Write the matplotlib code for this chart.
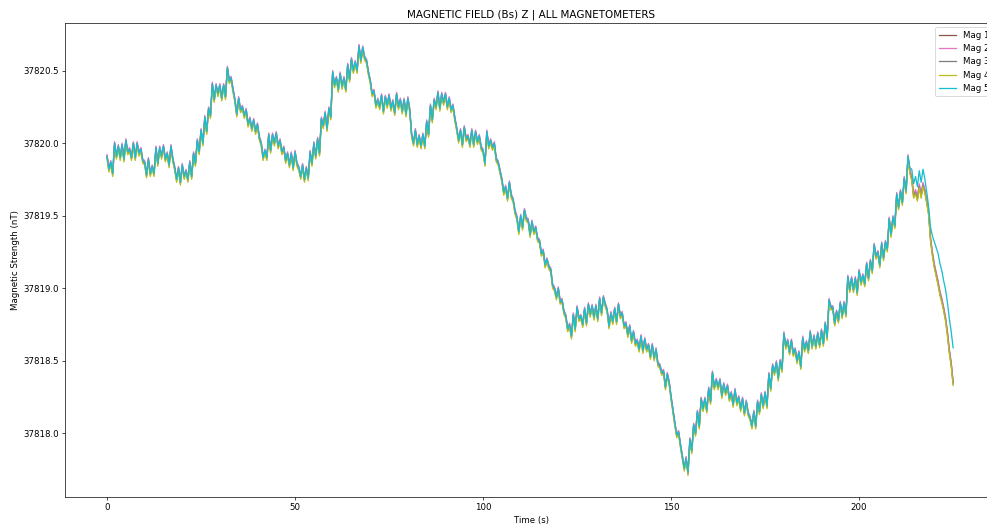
import numpy as np
import matplotlib
matplotlib.use("Agg")
import matplotlib.pyplot as plt

# ── data (0.5 s steps, hundredths of nT relative to 37820 nT) ──
BASE_NT = 37820.0
DT = 0.5

mag5_cnt = [
    -9, -18, -13, -21, 0, -9, -2, -10, -1, -11,
    2, -6, -4, -10, 0, -10, 0, -7, -4, -12,
    -13, -22, -11, -21, -16, -21, -3, -14, -3, -9,
    -2, -11, -7, -15, -2, -11, -17, -25, -17, -27,
    -15, -23, -19, -25, -13, -23, -7, -14, 2, -6,
    9, 0, 18, 8, 24, 19, 41, 30, 40, 34,
    40, 31, 40, 32, 52, 43, 45, 37, 30, 20,
    31, 23, 25, 19, 23, 13, 17, 10, 16, 8,
    13, 4, 0, -10, -5, -10, 6, -5, 6, 0,
    7, -2, 2, -6, -3, -12, -7, -15, -7, -17,
    -6, -14, -17, -23, -15, -25, -17, -24, -6, -14,
    0, -9, 3, -7, 17, 12, 21, 10, 24, 18,
    49, 40, 45, 37, 48, 39, 45, 37, 54, 44,
    58, 50, 56, 50, 67, 57, 66, 59, 57, 49,
    43, 34, 36, 26, 30, 25, 33, 22, 32, 26,
    33, 24, 29, 21, 34, 25, 30, 22, 30, 20,
    31, 23, 6, 0, 9, -1, 5, -2, 6, -2,
    15, 6, 26, 16, 30, 25, 35, 24, 34, 28,
    34, 25, 31, 23, 26, 17, 10, 2, 9, -1,
    11, 3, 5, -1, 9, -1, 8, 1, 5, -3,
    -5, -14, 8, -2, 2, -3, 0, -11, -13, -19,
    -25, -34, -30, -38, -27, -36, -39, -47, -51, -61,
    -50, -58, -46, -52, -53, -63, -54, -61, -58, -66,
    -67, -76, -74, -84, -80, -85, -87, -98, -100, -106,
    -100, -109, -108, -116, -119, -128, -125, -133, -118, -128,
    -113, -121, -119, -125, -114, -124, -111, -118, -112, -120,
    -112, -121, -107, -117, -106, -111, -115, -126, -117, -123,
    -114, -123, -111, -119, -117, -126, -124, -132, -126, -136,
    -130, -138, -136, -142, -133, -143, -135, -142, -139, -147,
    -139, -148, -142, -152, -153, -158, -157, -168, -159, -165,
    -175, -184, -193, -201, -199, -208, -216, -224, -217, -227,
    -204, -212, -194, -200, -185, -195, -176, -183, -176, -184,
    -169, -178, -158, -168, -163, -168, -163, -174, -166, -172,
    -167, -176, -172, -180, -170, -179, -175, -183, -176, -186,
    -178, -186, -189, -195, -185, -195, -178, -185, -173, -181,
    -172, -181, -159, -169, -153, -158, -151, -162, -150, -156,
    -131, -140, -136, -144, -136, -145, -142, -150, -144, -154,
    -134, -142, -137, -143, -130, -140, -133, -140, -131, -139,
    -129, -138, -124, -134, -108, -113, -113, -124, -116, -122,
    -110, -119, -110, -118, -92, -101, -93, -101, -93, -103,
    -88, -96, -91, -97, -83, -93, -81, -88, -70, -78,
    -75, -84, -69, -79, -68, -73, -52, -63, -51, -57,
    -35, -44, -33, -41, -24, -33, -9, -17, -18, -28,
    -23, -30, -19, -27, -18, -25, -34, -44, -58, -64,
    -68, -72, -76, -83, -88, -95, -101, -110, -121, -130,
    -141,
]

# Mags 1-4 sit on top of Mag 5, shifted slightly; they drop below it after ~213 s
mag_labels = ["Mag 1", "Mag 2", "Mag 3", "Mag 4", "Mag 5"]
mag_colors = ["tab:brown", "tab:pink", "tab:gray", "tab:olive", "tab:cyan"]
mag_shift_cnt = [0, 1, -1, -2, 0]
tail_cnt = [0, -2, -6, -8, -10, -8, -10, -9, -10, -8, -6, -4, -8,
            -12, -16, -18, -20, -20, -20, -19, -20, -21, -22, -22, -24]

# ── build series ──────────────────────────────────────────────────────────────
base = np.array(mag5_cnt, dtype=float)
t = np.arange(len(base)) * DT

series = []
for k in range(5):
    s = base + mag_shift_cnt[k]
    if k < 4:
        s[-len(tail_cnt):] += np.array(tail_cnt)
    series.append(BASE_NT + s / 100.0)

# ── plot ──────────────────────────────────────────────────────────────────────
# the source figure runs a little past the right edge, so the legend is clipped
fig = plt.figure(figsize=(15.92, 8.47), dpi=62)
ax = fig.add_axes([0.0659, 0.0533, 0.9443, 0.9029])

for s, lab, col in zip(series, mag_labels, mag_colors):
    ax.plot(t, s, color=col, label=lab, linewidth=1.5)

ax.set_xlim(-11.17, 236.7)
ax.set_title("MAGNETIC FIELD (Bs) Z | ALL MAGNETOMETERS")
ax.set_xlabel("Time (s)")
ax.set_ylabel("Magnetic Strength (nT)")
ax.ticklabel_format(axis="y", useOffset=False, style="plain")
ax.legend(loc="upper right")

fig.savefig("out.png", dpi=62)
